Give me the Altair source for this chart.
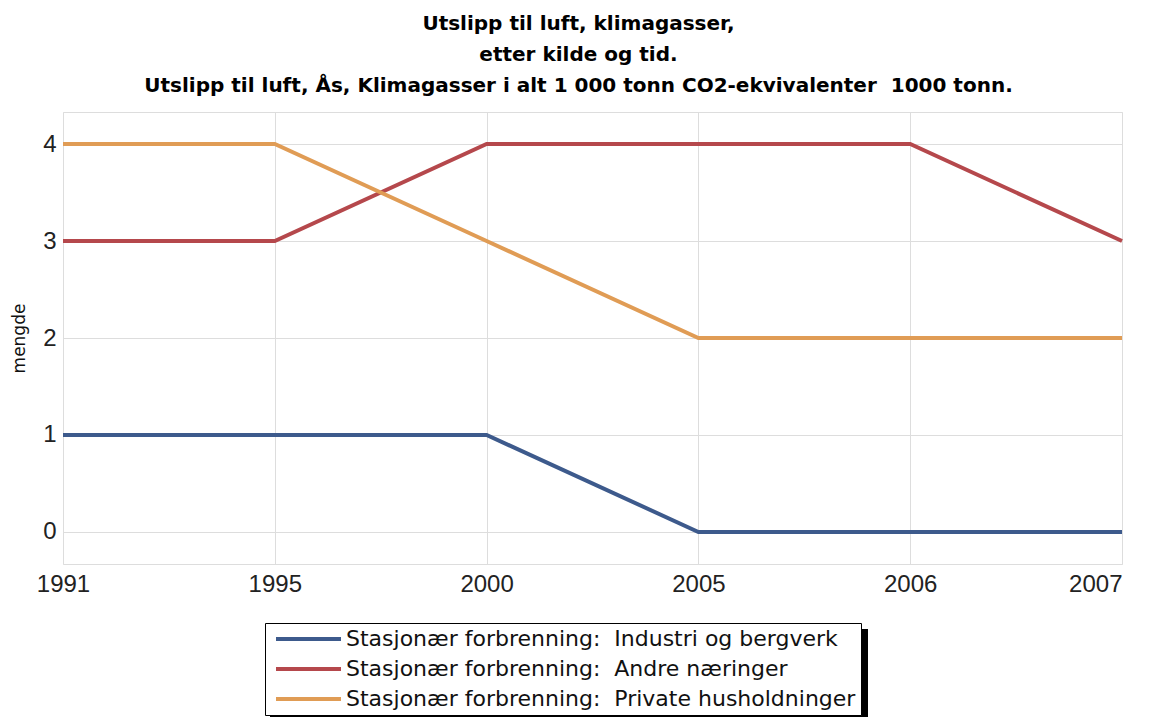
import altair as alt
import pandas as pd

years = ["1991", "1995", "2000", "2005", "2006", "2007"]
series_names = [
    "Stasjonær forbrenning:  Industri og bergverk",
    "Stasjonær forbrenning:  Andre næringer",
    "Stasjonær forbrenning:  Private husholdninger",
]
industri = [1, 1, 1, 0, 0, 0]
andre = [3, 3, 4, 4, 4, 3]
private = [4, 4, 3, 2, 2, 2]
colors = ["#3d5a8c", "#b5484c", "#e09c55"]
title_lines = [
    "Utslipp til luft, klimagasser,",
    "etter kilde og tid.",
    "Utslipp til luft, Ås, Klimagasser i alt 1 000 tonn CO2-ekvivalenter \u00a01000 tonn.",
]

legend_names = [n.replace("  ", " \u00a0") for n in series_names]
rows = []
for name, vals in zip(legend_names, [industri, andre, private]):
    for y, v in zip(years, vals):
        rows.append({"år": y, "mengde": v, "kilde": name})
df = pd.DataFrame(rows)

FONT = "Liberation Sans"
W, H = 1059, 452

lines = alt.Chart(df).mark_line(strokeWidth=4, clip=False).encode(
    x=alt.X("år:O", sort=years, scale=alt.Scale(type="point", padding=0),
            axis=alt.Axis(title=None, labelAngle=0, labelFontSize=24, labelFont=FONT,
                          labelColor="#222", labelPadding=8, ticks=False, domain=False,
                          grid=True, gridColor="#dddddd", labelFlush=False,
                          labelAlign={"expr": "datum.value == '2007' ? 'right' : 'center'"})),
    y=alt.Y("mengde:Q", scale=alt.Scale(domain=[-0.33, 4.33], nice=False, zero=False),
            axis=alt.Axis(title="mengde", values=[0, 1, 2, 3, 4], labelFontSize=24,
                          labelFont=FONT, labelColor="#222", labelPadding=7, ticks=False,
                          domain=False, grid=True, gridColor="#dddddd",
                          titleFont="DejaVu Sans", titleFontSize=17, titleFontWeight="normal",
                          titleColor="#111", titlePadding=14)),
    color=alt.Color("kilde:N", sort=legend_names,
                    scale=alt.Scale(domain=legend_names, range=colors),
                    legend=alt.Legend(title=None, orient="none", legendX=202, legendY=511,
                                      symbolType="M-1,0H12", symbolSize=100,
                                      symbolStrokeWidth=4, labelOffset=54,
                                      labelFontSize=22, labelFont="DejaVu Sans",
                                      labelColor="#111", labelLimit=800, rowPadding=8,
                                      padding=5, strokeColor="black", fillColor="white")),
    order=alt.Order("kilde:N"),
)

shadow = alt.Chart(pd.DataFrame({"k": [0]})).mark_rect(color="black", clip=False).encode(
    x=alt.value(207), x2=alt.value(805), y=alt.value(517), y2=alt.value(612)
)

chart = alt.layer(shadow, lines).properties(
    width=W, height=H,
    title=alt.Title(title_lines, font="DejaVu Sans", fontSize=20, fontWeight="bold",
                    color="#000", anchor="middle", offset=16, lineHeight=31, dx=-14),
    autosize=alt.AutoSizeParams(type="none"),
    padding={"left": 55, "top": 104, "right": 21, "bottom": 153},
).configure_view(stroke="#cccccc", strokeWidth=1.5).configure(background="white")

chart.save("out.html", embed_options={"renderer": "svg", "actions": False})
